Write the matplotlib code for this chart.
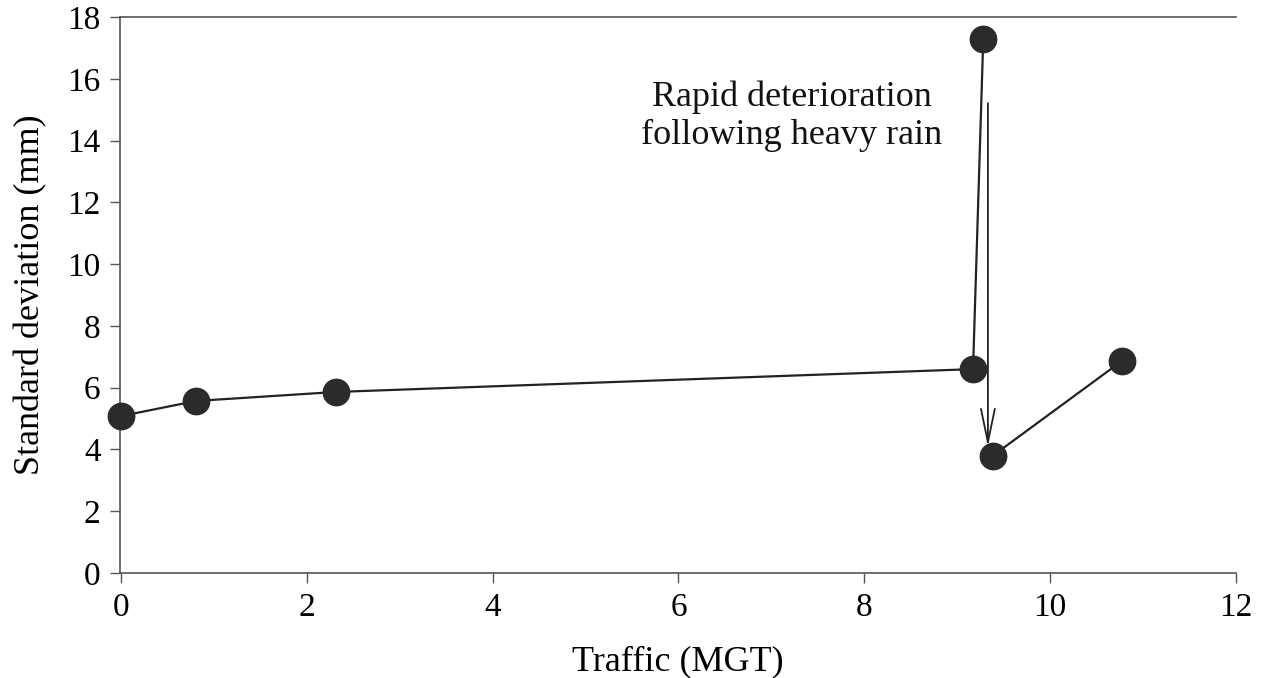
import matplotlib.pyplot as plt

# Data
traffic = [0.0, 0.81, 2.31, 9.17, 9.28, 9.38, 10.77]
std_dev = [5.08, 5.57, 5.86, 6.60, 17.28, 3.79, 6.86]

plt.rcParams['font.family'] = ['Liberation Serif', 'DejaVu Serif']

fig = plt.figure(figsize=(12.66, 6.78), dpi=100)
ax = fig.add_axes([0.0948, 0.1549, 0.8815, 0.82])

# line up to the peak, then after the drop (the drop is drawn as an arrow)
ax.plot(traffic[:5], std_dev[:5], color='#222222', lw=1.6, clip_on=False, zorder=2)
ax.plot(traffic[5:], std_dev[5:], color='#222222', lw=1.6, clip_on=False, zorder=2)
ax.plot(traffic, std_dev, 'o', color='#2b2b2b', markersize=19, clip_on=False, zorder=3)

ax.annotate('', xy=(9.33, 4.0), xytext=(9.33, 15.3),
            arrowprops=dict(arrowstyle='->,head_length=2.4,head_width=0.5',
                            color='#222222', lw=1.3))
ax.text(7.22, 14.8, 'Rapid deterioration\nfollowing heavy rain', ha='center', va='center',
        fontsize=26, linespacing=1.2, color='#111111')

ax.set_xlim(-0.01, 12)
ax.set_ylim(0, 18)
ax.set_xticks(range(0, 13, 2))
ax.set_yticks(range(0, 19, 2))
ax.set_xlabel('Traffic (MGT)', fontsize=26, labelpad=16)
ax.set_ylabel('Standard deviation (mm)', fontsize=26, labelpad=14)
ax.tick_params(labelsize=24, length=7, width=1, color='#555555', pad=7)

ax.spines['right'].set_visible(False)
for s in ['left', 'bottom', 'top']:
    ax.spines[s].set_color('#555555')
    ax.spines[s].set_linewidth(1.2)

fig.savefig('out.png', dpi=100)
